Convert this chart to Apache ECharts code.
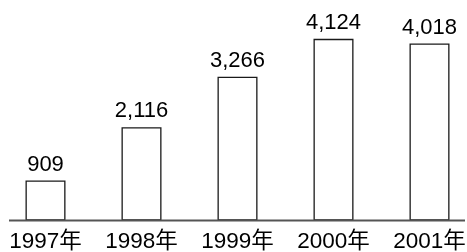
<!DOCTYPE html>
<html>
<head>
<meta charset="utf-8">
<script src="https://cdn.jsdelivr.net/npm/echarts@6/dist/echarts.min.js"></script>
<style>
html,body{margin:0;padding:0;background:#fff;}
#c{width:467px;height:252px;}
</style>
</head>
<body>
<div id="c"></div>
<script>
const categories = ['1997年', '1998年', '1999年', '2000年', '2001年'];
const values = [909, 2116, 3266, 4124, 4018];

const FONT = '"Liberation Sans", Arial, "Noto Sans CJK SC", sans-serif';
const chart = echarts.init(document.getElementById('c'), null, {renderer: 'canvas'});
chart.setOption({
  animation: false,
  backgroundColor: '#ffffff',
  grid: {left: -2.5, right: -10.5, top: 22.3, bottom: 31.5, containLabel: false, outerBoundsMode: 'none'},
  xAxis: {
    type: 'category',
    data: categories,
    axisLine: {show: false},
    axisTick: {show: false},
    axisLabel: {color: '#000', fontSize: 22.5, fontFamily: FONT, margin: 10, interval: 0}
  },
  yAxis: {
    type: 'value',
    min: 0,
    max: 4500,
    show: false,
    splitLine: {show: false}
  },
  series: [{
    type: 'bar',
    data: values,
    barWidth: 40,
    itemStyle: {color: '#ffffff', borderColor: '#1a1a1a', borderWidth: 1.3},
    label: {
      show: true,
      position: 'top',
      distance: 5,
      color: '#000',
      fontSize: 22,
      fontFamily: FONT,
      formatter: p => p.value.toLocaleString('en-US')
    }
  }],
  graphic: [{
    type: 'line',
    shape: {x1: 9, y1: 220.5, x2: 465, y2: 220.5},
    style: {stroke: '#555', lineWidth: 2},
    z: 10
  }]
});
</script>
</body>
</html>
